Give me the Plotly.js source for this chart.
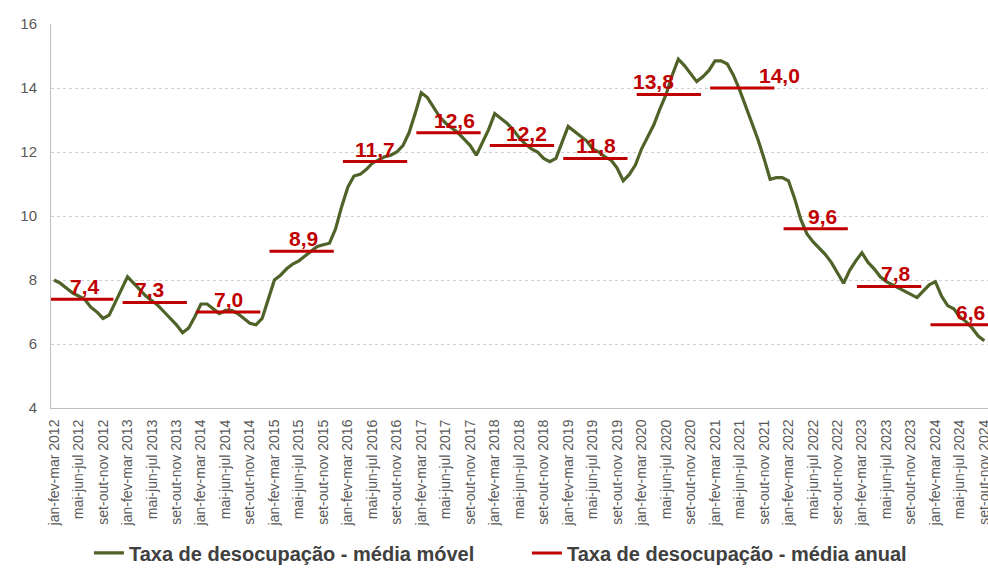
<!DOCTYPE html>
<html>
<head>
<meta charset="utf-8">
<script src="https://cdn.plot.ly/plotly-3.0.1.min.js"></script>
<style>html,body{margin:0;padding:0;background:#fff;}#chart{width:988px;height:570px;}</style>
</head>
<body>
<div id="chart"></div>
<script>
// Taxa de desocupação - média móvel trimestral (jan-fev-mar 2012 ... set-out-nov 2024)
const taxa2012 = [8.0, 7.9, 7.75, 7.6, 7.5, 7.4, 7.15, 7.0, 6.8, 6.9, 7.3, 7.7];
const taxa2013 = [8.1, 7.9, 7.7, 7.5, 7.35, 7.2, 7.0, 6.8, 6.6, 6.35, 6.5, 6.85];
const taxa2014 = [7.25, 7.25, 7.1, 6.95, 7.05, 7.05, 6.95, 6.8, 6.65, 6.6, 6.8, 7.4];
const taxa2015 = [8.0, 8.15, 8.35, 8.5, 8.6, 8.75, 8.9, 9.05, 9.1, 9.15, 9.6, 10.3];
const taxa2016 = [10.9, 11.25, 11.3, 11.45, 11.65, 11.75, 11.85, 11.9, 12.0, 12.2, 12.6, 13.2];
const taxa2017 = [13.85, 13.7, 13.4, 13.1, 12.9, 12.75, 12.6, 12.4, 12.2, 11.9, 12.3, 12.7];
const taxa2018 = [13.2, 13.05, 12.9, 12.7, 12.45, 12.25, 12.1, 12.0, 11.8, 11.7, 11.8, 12.3];
const taxa2019 = [12.8, 12.65, 12.5, 12.35, 12.1, 12.0, 11.85, 11.75, 11.5, 11.1, 11.3, 11.6];
const taxa2020 = [12.1, 12.45, 12.85, 13.35, 13.8, 14.4, 14.9, 14.7, 14.45, 14.2, 14.35, 14.55];
const taxa2021 = [14.85, 14.85, 14.75, 14.4, 13.95, 13.45, 12.95, 12.4, 11.8, 11.15, 11.2, 11.2];
const taxa2022 = [11.1, 10.55, 9.9, 9.45, 9.2, 9.0, 8.8, 8.55, 8.2, 7.9, 8.3, 8.6];
const taxa2023 = [8.85, 8.55, 8.35, 8.1, 7.95, 7.85, 7.75, 7.65, 7.55, 7.45, 7.65, 7.85];
const taxa2024 = [7.95, 7.5, 7.2, 7.1, 6.85, 6.7, 6.5, 6.25, 6.1];

// Média anual
const anos = [2012, 2013, 2014, 2015, 2016, 2017, 2018, 2019, 2020, 2021, 2022, 2023, 2024];
const mediaAnual = [7.4, 7.3, 7.0, 8.9, 11.7, 12.6, 12.2, 11.8, 13.8, 14.0, 9.6, 7.8, 6.6];

// Rótulos do eixo (a cada 4 meses)
const trimestresRotulo = ['jan-fev-mar', 'mai-jun-jul', 'set-out-nov'];
const meses = ['jan','fev','mar','abr','mai','jun','jul','ago','set','out','nov','dez'];

const serieNome = 'Taxa de desocupação - média móvel';
const mediaNome = 'Taxa de desocupação - média anual';

// layout only: horizontal pixel nudges of the annual-mean labels
const rotuloDeslocPx = [4, -5, 0, 2, 0, 6, 5, 1, -15, 37, 7, 7, 8];

const taxa = [].concat(taxa2012, taxa2013, taxa2014, taxa2015, taxa2016, taxa2017,
  taxa2018, taxa2019, taxa2020, taxa2021, taxa2022, taxa2023, taxa2024);

// period index 0 = jan-fev-mar 2012
const xIdx = taxa.map((_, i) => i);
const periodo = xIdx.map(i => {
  const endM = (i + 2) % 12;
  const yr = 2012 + Math.floor((i + 2) / 12);
  return meses[(endM + 10) % 12] + '-' + meses[(endM + 11) % 12] + '-' + meses[endM] + ' ' + yr;
});

const tickvals = [], ticktext = [];
anos.forEach((a, k) => {
  trimestresRotulo.forEach((t, j) => {
    tickvals.push(12 * k + 4 * j);
    ticktext.push(t + ' ' + a);
  });
});

const GREEN = '#4F6228';
const RED = '#C00000';

// annual mean segments
const segX = [], segY = [];
anos.forEach((a, k) => {
  segX.push(12 * k - 0.8, 12 * k + 9.7, null);
  segY.push(mediaAnual[k], mediaAnual[k], null);
});

const traces = [
  {
    x: xIdx, y: taxa, text: periodo, type: 'scatter', mode: 'lines',
    name: serieNome, line: {color: GREEN, width: 3.2},
    hovertemplate: '%{text}: %{y:.1f}<extra></extra>'
  },
  {
    x: segX, y: segY, type: 'scatter', mode: 'lines',
    name: mediaNome, line: {color: RED, width: 3},
    hoverinfo: 'skip'
  }
];

const annotations = anos.map((a, k) => ({
  x: 12 * k + 4.45, y: mediaAnual[k], xref: 'x', yref: 'y',
  text: mediaAnual[k].toFixed(1).replace('.', ','),
  showarrow: false, yanchor: 'bottom', xanchor: 'center', yshift: -1,
  xshift: rotuloDeslocPx[k],
  font: {family: 'Liberation Sans, Arial, sans-serif', size: 21, color: RED, weight: 'bold'}
}));

const layout = {
  width: 988, height: 570,
  margin: {l: 51, r: 0, t: 24, b: 162},
  paper_bgcolor: '#ffffff', plot_bgcolor: '#ffffff',
  font: {family: 'Liberation Sans, Arial, sans-serif', color: '#595959'},
  showlegend: true,
  legend: {
    orientation: 'h', xref: 'container', yref: 'container',
    x: 0.09, y: 0.03, xanchor: 'left', yanchor: 'middle',
    font: {size: 20, color: '#404040', weight: 'bold'},
    entrywidth: 393, entrywidthmode: 'pixels', itemwidth: 30,
    bgcolor: 'rgba(0,0,0,0)'
  },
  xaxis: {
    range: [-0.5, 152.6],
    tickmode: 'array', tickvals: tickvals, ticktext: ticktext,
    tickangle: -90, tickfont: {size: 14, color: '#595959'},
    showgrid: false, zeroline: false, ticks: '',
    showline: true, linecolor: '#BFBFBF', linewidth: 1,
    ticklabelstandoff: 5, ticklabeloverflow: 'allow'
  },
  yaxis: {
    range: [4, 16], tick0: 4, dtick: 2,
    tickfont: {size: 15, color: '#595959'},
    showgrid: true, gridcolor: '#D0D0D0', griddash: 'dot', gridwidth: 1,
    zeroline: false, ticks: '',
    showline: true, linecolor: '#BFBFBF', linewidth: 1,
    ticklabelstandoff: 10
  },
  annotations: annotations
};

Plotly.newPlot('chart', traces, layout, {displayModeBar: false, staticPlot: false});
</script>
</body>
</html>
